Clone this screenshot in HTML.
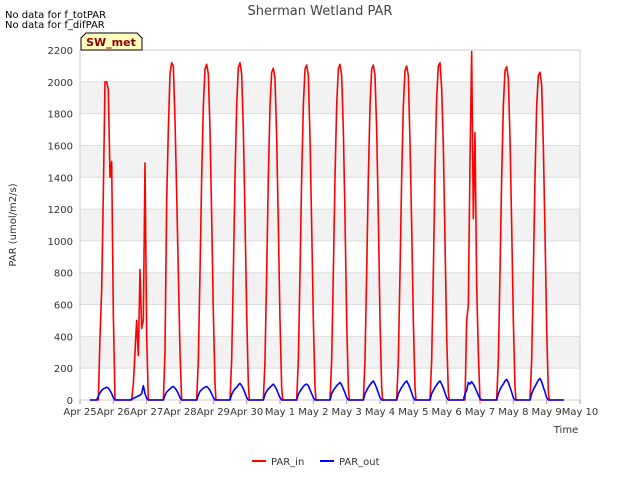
<!DOCTYPE html>
<html><head><meta charset="utf-8"><style>
body{margin:0;background:#fff;font-family:"DejaVu Sans","Liberation Sans",sans-serif}
svg{display:block}
text{font-family:"DejaVu Sans","Liberation Sans",sans-serif}
</style></head><body>
<svg id="chart" width="640" height="480">
<text x="5" y="18" font-size="10" fill="#000">No data for f_totPAR</text>
<text x="5" y="28" font-size="10" fill="#000">No data for f_difPAR</text>
<text x="320" y="15" font-size="13" fill="#444" text-anchor="middle">Sherman Wetland PAR</text>
<g id="plot"></g>
<text x="16" y="225" font-size="10" fill="#333" text-anchor="middle" transform="rotate(-90 16 225)">PAR (umol/m2/s)</text>
<text x="566" y="433" font-size="10" fill="#333" text-anchor="middle">Time</text>
<g>
<line x1="252" y1="461" x2="266" y2="461" stroke="#f00" stroke-width="2"/>
<text x="271" y="465" font-size="10" fill="#333">PAR_in</text>
<line x1="320" y1="461" x2="334" y2="461" stroke="#00f" stroke-width="2"/>
<text x="339" y="465" font-size="10" fill="#333">PAR_out</text>
</g>
<g>
<path d="M81,50 L81,38 L86,33 L137,33 L142,38 L142,50 Z" fill="#ffffc0" stroke="#000" stroke-width="1"/>
<text x="111" y="46" font-size="11" font-weight="bold" fill="#8b0000" text-anchor="middle">SW_met</text>
</g>
</svg>
<script>
const xLabels=["Apr 25","Apr 26","Apr 27","Apr 28","Apr 29","Apr 30","May 1","May 2","May 3","May 4","May 5","May 6","May 7","May 8","May 9","May 10"];
const yTicks=[0,200,400,600,800,1000,1200,1400,1600,1800,2000,2200];
const offsets=[0.5,0.55,0.6,0.65,0.7,0.75,0.8,0.85,0.9,0.95,1.0,1.05,1.08];
const parIn=[
[0,0,400,690,1300,2000,2000,1950,1400,1500,540,0,0],
[0,0,100,300,500,280,820,450,500,1490,400,0,0],
[0,300,1250,1700,2050,2120,2100,1760,1300,800,300,0,0],
[0,250,800,1400,1850,2080,2110,2050,1700,1150,550,100,0],
[0,250,800,1400,1850,2090,2120,2050,1700,1150,550,100,0],
[0,250,800,1400,1850,2060,2085,2020,1650,1100,500,80,0],
[0,250,800,1400,1850,2080,2105,2040,1650,1100,500,80,0],
[0,250,800,1400,1850,2080,2110,2040,1700,1150,500,80,0],
[0,250,800,1400,1850,2080,2105,2040,1700,1150,500,80,0],
[0,250,800,1400,1850,2070,2100,2040,1620,1100,500,80,0],
[0,250,800,1450,1900,2100,2120,1960,1600,1000,400,50,0],
[0,0,500,600,1500,2190,1140,1680,720,300,0,0,0],
[0,250,800,1400,1850,2070,2095,2020,1650,1100,500,80,0],
[0,250,800,1400,1850,2040,2060,1980,1600,1050,450,50,0],
[0,0,0,0,0,0,0,0,0,0,0,0,0]
];
const parOut=[
[0,25,45,60,70,75,80,75,60,40,15,0,0],
[0,5,10,15,20,25,30,40,90,40,10,0,0],
[0,30,50,60,70,80,85,75,60,40,15,0,0],
[0,30,55,65,75,80,85,75,60,40,15,0,0],
[0,35,55,70,80,95,105,90,70,45,15,0,0],
[0,35,55,70,80,90,100,85,65,40,15,0,0],
[0,35,55,70,85,95,100,90,65,40,15,0,0],
[0,40,60,75,90,100,110,95,70,45,15,0,0],
[0,40,60,80,95,110,120,100,75,45,15,0,0],
[0,40,60,80,95,110,120,100,75,45,15,0,0],
[0,40,60,80,95,110,120,100,75,45,15,0,0],
[0,40,60,110,100,115,100,80,55,30,10,0,0],
[0,40,65,85,100,120,130,110,80,50,15,0,0],
[0,40,65,85,105,125,135,115,80,50,15,0,0],
[0,0,0,0,0,0,0,0,0,0,0,0,0]
];
const X0=80,X1=580,Y0=400,Y1=50,XMAX=15,YMAX=2200;
const xs=t=>X0+(X1-X0)*t/XMAX;
const ys=v=>Y0-(Y0-Y1)*v/YMAX;
const NS="http://www.w3.org/2000/svg";
const g=document.getElementById('plot');
function mk(tag,attrs,parent){const e=document.createElementNS(NS,tag);for(const k in attrs)e.setAttribute(k,attrs[k]);(parent||g).appendChild(e);return e;}
mk('rect',{x:X0,y:Y1,width:X1-X0,height:Y0-Y1,fill:'#fff'});
for(let i=0;i<yTicks.length-1;i++){
  if(i%2===1){const b=mk('rect',{x:X0,y:ys(yTicks[i+1]),width:X1-X0,height:ys(yTicks[i])-ys(yTicks[i+1]),fill:'#f2f2f2'});
  
  }
}
yTicks.forEach(v=>{
  mk('line',{x1:X0,x2:X1,y1:ys(v),y2:ys(v),stroke:'#ddd','stroke-width':1});
  const t=mk('text',{x:X0-7,y:ys(v)+4,'font-size':10,fill:'#333','text-anchor':'end'});
  t.textContent=v;
  
  
});
xLabels.forEach((l,i)=>{
  mk('line',{x1:xs(i),x2:xs(i),y1:Y0,y2:Y0+4,stroke:'#999'});
  const t=mk('text',{x:xs(i),y:Y0+15,'font-size':10,fill:'#333','text-anchor':'middle'});
  t.textContent=l;
  
  
});
mk('rect',{x:X0,y:Y1,width:X1-X0,height:Y0-Y1,fill:'none',stroke:'#ccc'});
function series(vals,color,name){
  let pts=[[xs(0.3),ys(0)]];
  vals.forEach((day,d)=>{offsets.forEach((o,j)=>{if(d<14||j===0)pts.push([xs(d+o),ys(day[j])]);});});
  pts.push([xs(14.31),ys(0)]);
  const p=mk('polyline',{points:pts.map(p=>p.join(',')).join(' '),fill:'none',stroke:color,'stroke-width':1.6,'stroke-linejoin':'round'});
  
  
}
series(parIn,'#f00','par-in-line');
series(parOut,'#00f','par-out-line');
</script>
</body></html>
